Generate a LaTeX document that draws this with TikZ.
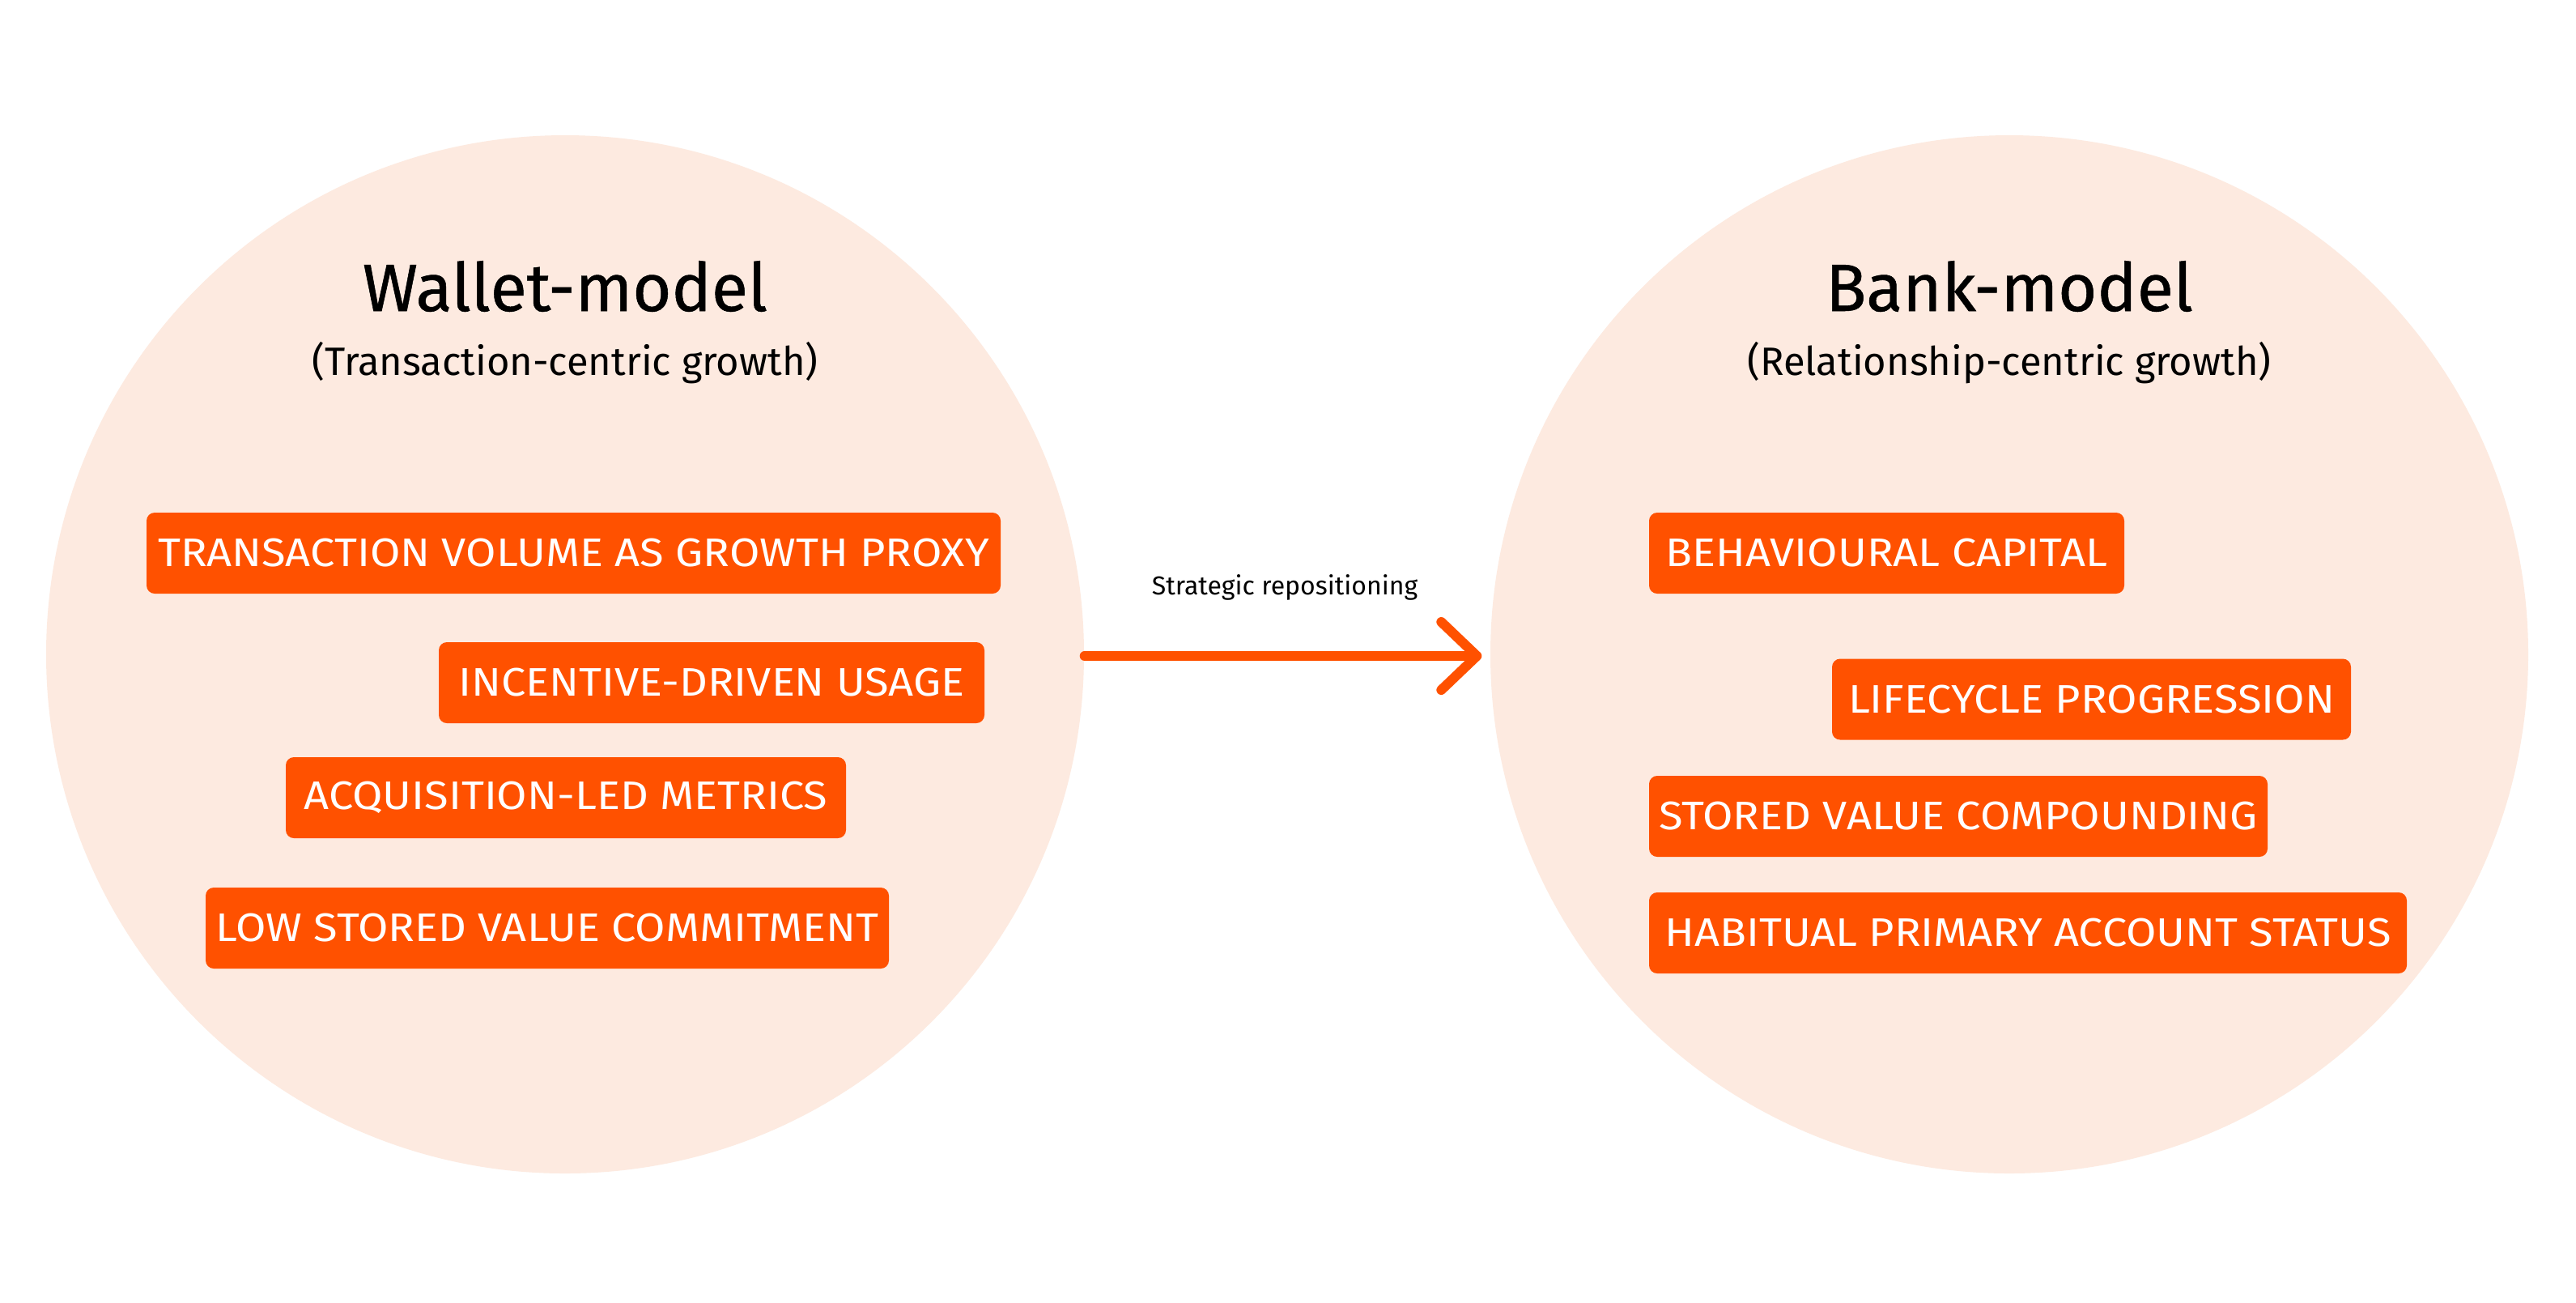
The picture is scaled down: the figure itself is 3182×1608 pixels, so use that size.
\documentclass[tikz,border=0pt]{standalone}
\usepackage{fontspec}
\setmainfont{Fira Sans}
\newfontfamily\tagfont{Fira Sans}[FakeStretch=1.1]
\newfontfamily\ttlfont{Fira Sans}[FakeBold=0.6]
\usetikzlibrary{arrows.meta}
\definecolor{peach}{HTML}{FDEAE0}
\definecolor{orng}{HTML}{FF5100}
\tikzset{
  blob/.style={circle, fill=peach, draw=none, minimum size=128.2mm, inner sep=0pt},
  tag/.style={fill=orng, text=white, rounded corners=1mm, minimum height=10mm, inner sep=0pt,
    font=\tagfont\fontsize{14}{16}\selectfont},
  ttl/.style={anchor=base, font=\ttlfont\fontsize{23.5}{28}\selectfont, text=black},
  sub/.style={anchor=base, font=\fontsize{13.9}{16}\selectfont, text=black},
  lbl/.style={anchor=base, font=\fontsize{9.1}{11}\selectfont, text=black},
  flow/.style={draw=orng, line width=1.2mm, line cap=round, line join=round,
    -{Straight Barb[length=4.4mm, width=8.4mm, line cap=round, line join=round]}}
}
\begin{document}
\begin{tikzpicture}[x=0.1mm, y=-0.1mm]
\useasboundingbox[fill=white] (0,0) rectangle (3182,1608);
\node[blob] (L) at (698,808) {};
\node[blob] (R) at (2482,808) {};
\node[ttl] (lt) at (698,384) {Wallet-model};
\node[sub] (ls) at (698,463) {(Transaction-centric growth)};
\node[ttl] (rt) at (2482,384) {Bank-model};
\node[sub] (rs) at (2482,463) {(Relationship-centric growth)};
\node[tag, minimum width=105.5mm] (a1) at (708.5,683) {TRANSACTION VOLUME AS GROWTH PROXY};
\node[tag, minimum width=67.4mm] (a2) at (879,843) {INCENTIVE-DRIVEN USAGE};
\node[tag, minimum width=69.2mm] (a3) at (699,985) {ACQUISITION-LED METRICS};
\node[tag, minimum width=84.4mm] (a4) at (676,1146) {LOW STORED VALUE COMMITMENT};
\node[tag, minimum width=58.7mm] (b1) at (2330.5,683) {BEHAVIOURAL CAPITAL};
\node[tag, minimum width=64.1mm] (b2) at (2583.5,863.5) {LIFECYCLE PROGRESSION};
\node[tag, minimum width=76.4mm] (b3) at (2419,1008) {STORED VALUE COMPOUNDING};
\node[tag, minimum width=93.6mm] (b4) at (2505,1152) {HABITUAL PRIMARY ACCOUNT STATUS};
\node[lbl] (sr) at (1587,734) {Strategic repositioning};
\draw[flow] ([yshift=-0.2mm]L.east) -- ([yshift=-0.2mm,xshift=-1mm]R.west);
\end{tikzpicture}
\end{document}
